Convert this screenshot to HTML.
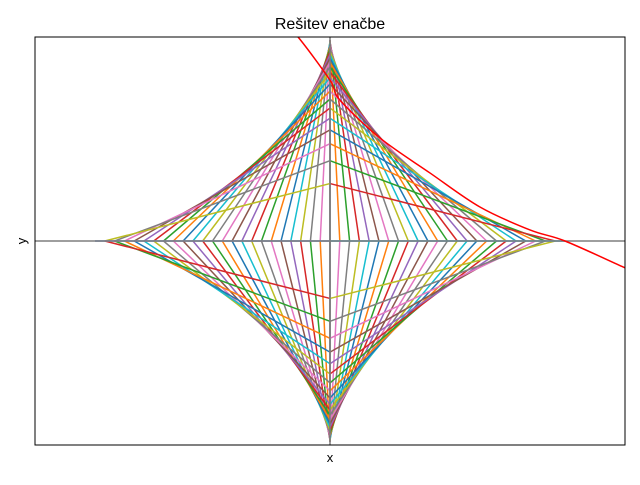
<!DOCTYPE html>
<html><head><meta charset="utf-8"><style>
body{margin:0;background:#fff;font-family:"Liberation Sans","DejaVu Sans",sans-serif}
</style></head><body>
<svg id="chart" width="640" height="480" xmlns="http://www.w3.org/2000/svg">
<rect width="640" height="480" fill="#fff"/>
<defs><clipPath id="clip"><rect x="35" y="37" width="590" height="408"/></clipPath></defs>
<g id="marks" clip-path="url(#clip)"></g>
<rect x="35" y="37" width="590" height="408" fill="none" stroke="#000" stroke-width="1"/>
<text x="330" y="29" text-anchor="middle" font-size="16">Rešitev enačbe</text>
<text x="330" y="462" text-anchor="middle" font-size="13">x</text>
<text x="26" y="241" text-anchor="middle" font-size="13" transform="rotate(-90 26 241)">y</text>
</svg>
<script>
const segmentCount = 24;
const quadrantSigns = [[1,1],[-1,1],[-1,-1],[1,-1]];
const redX = [-0.2, -0.136, 0, 0.043, 0.213, 0.426, 0.638, 0.851, 1, 1.247, 1.3];
const redY = [1.08, 1.015, 0.80, 0.70, 0.512, 0.338, 0.169, 0.055, 0, -0.129, -0.155];
const colors = ['#1f77b4','#ff7f0e','#2ca02c','#d62728','#9467bd','#8c564b','#e377c2','#7f7f7f','#bcbd22','#17becf'];
const sx = v => 330 + v * 235;
const sy = v => 241 - v * 201;
const g = document.getElementById('marks');
const NS = 'http://www.w3.org/2000/svg';
function line(x1,y1,x2,y2,c,w){
  const l = document.createElementNS(NS,'line');
  l.setAttribute('x1',x1);l.setAttribute('y1',y1);l.setAttribute('x2',x2);l.setAttribute('y2',y2);
  l.setAttribute('stroke',c);l.setAttribute('stroke-width',w);
  return l;
}
let ci = 0;
quadrantSigns.forEach((s,q)=>{
  for(let i=0;i<=segmentCount;i++){
    const a = i/segmentCount;
    const b = Math.sqrt(Math.max(0,1-a*a));
    const l = line(sx(s[0]*a), sy(0), sx(0), sy(s[1]*b), colors[ci%10], 1.5);
    
    
    g.appendChild(l);
    ci++;
  }
});
const h = line(35,sy(0),625,sy(0),'#7f7f7f',1.5);


g.appendChild(h);
const v = line(sx(0),37,sx(0),445,'#7f7f7f',1.5);


g.appendChild(v);
const pts = redX.map((x,i)=>[sx(x), sy(redY[i])]);
let d = 'M' + pts[0][0] + ',' + pts[0][1];
for(let i=0;i<pts.length-1;i++){
  const p0 = pts[Math.max(0,i-1)], p1 = pts[i], p2 = pts[i+1], p3 = pts[Math.min(pts.length-1,i+2)];
  const c1 = [p1[0]+(p2[0]-p0[0])/6, p1[1]+(p2[1]-p0[1])/6];
  const c2 = [p2[0]-(p3[0]-p1[0])/6, p2[1]-(p3[1]-p1[1])/6];
  d += ' C' + c1.join(',') + ' ' + c2.join(',') + ' ' + p2.join(',');
}
const p = document.createElementNS(NS,'path');
p.setAttribute('d', d);
p.setAttribute('fill','none');p.setAttribute('stroke','#ff0000');p.setAttribute('stroke-width','1.5');


g.appendChild(p);
</script>
</body></html>
